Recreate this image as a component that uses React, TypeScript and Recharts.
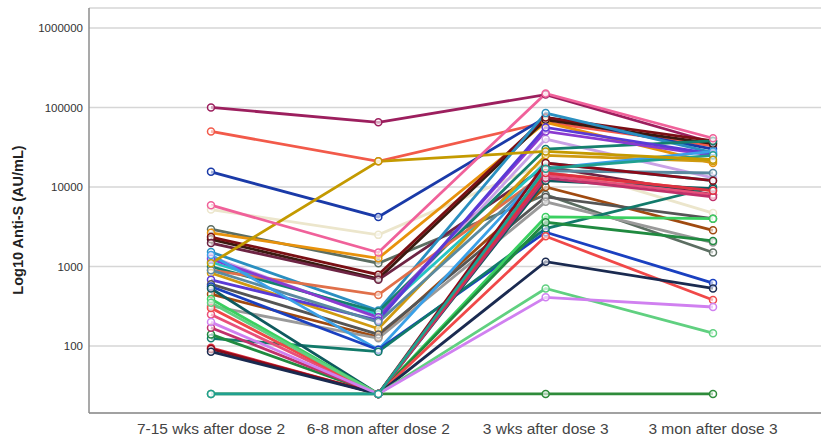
import React from "react";
import { LineChart, Line, XAxis, YAxis, CartesianGrid } from "recharts";

const timepoints = ["7-15 wks after dose 2", "6-8 mon after dose 2", "3 wks after dose 3", "3 mon after dose 3"];
const yTicks = [100, 1000, 10000, 100000, 1000000];

// Anti-S (AU/mL) per participant, one value per timepoint
const p27 = [25, 25, 25, 25];
const p01 = [100000, 65000, 145000, 36000];
const p03 = [50000, 21000, 65000, 33000];
const p04 = [15500, 4200, 75000, 30000];
const p06 = [5200, 2500, 20000, 4700];
const p07 = [2950, 1100, 8000, 1500];
const p08 = [2650, 1270, 65000, 20000];
const p37 = [2200, 700, 70000, 35000];
const p09 = [2350, 790, 75000, 38000];
const p10 = [1970, 680, 18000, 8000];
const p11 = [1520, 280, 85000, 27000];
const p12 = [1320, 225, 40000, 13000];
const p13 = [1140, 250, 20000, 12000];
const p14 = [1000, 270, 30000, 38000];
const p15 = [900, 440, 15000, 9000];
const p16 = [830, 165, 25000, 21000];
const p38 = [1250, 230, 50000, 25000];
const p17 = [680, 210, 56000, 26000];
const p39 = [900, 200, 16000, 15000];
const p34 = [450, 130, 10000, 2850];
const p35 = [600, 140, 7500, 4000];
const p20 = [320, 125, 6500, 2000];
const p28 = [1400, 90, 17000, 28000];
const p30 = [560, 90, 2700, 620];
const p23 = [125, 85, 3000, 10000];
const p18 = [530, 25, 12000, 9500];
const p19 = [390, 25, 4200, 4000];
const p33 = [140, 25, 3600, 2100];
const p21 = [250, 25, 14000, 8000];
const p29 = [300, 25, 2400, 380];
const p22 = [170, 25, 13000, 7500];
const p40 = [95, 25, 15000, 9000];
const p24 = [92, 25, 20000, 12000];
const p25 = [85, 25, 1150, 530];
const p31 = [350, 25, 530, 145];
const p32 = [200, 25, 410, 310];
const p26 = [25, 25, 17000, 25000];
const p05 = [1100, 21000, 28000, 22000];
const p02 = [5900, 1500, 150000, 41000];

const participants = [
  p27, p01, p03, p04, p06, p07, p08, p37, p09, p10, p11, p12, p13, p14, p15, p16, p38, p17, p39,
  p34, p35, p20, p28, p30, p23, p18, p19, p33, p21, p29, p22, p40, p24, p25, p31, p32, p26, p05, p02,
];
const colors = [
  "#2e8b3a", "#9c1f5e", "#f25a4a", "#1a3aa8", "#ece6cc", "#5c6e62", "#e8920c", "#3a1a10", "#7a0f14", "#6e2444",
  "#2a8fc0", "#c9a2e6", "#25c4c4", "#15806e", "#e0704a", "#d09a10", "#8a3ad0", "#5a3ad6", "#5a8aa0",
  "#a04a10", "#555555", "#9a9a9a", "#3aa0e8", "#1a40c0", "#127a6a", "#0e5a5e", "#3ad060", "#208a40", "#e8507a",
  "#f04848", "#c0306a", "#e03040", "#8b0a1a", "#1a2a50", "#60d080", "#d080f0", "#20a090", "#c49a00", "#f0619a",
];

const data = timepoints.map((t, i) => {
  const row: Record<string, number | string> = { time: t };
  participants.forEach((vals, k) => {
    row["p" + k] = vals[i];
  });
  return row;
});

const AxisTitle = () => (
  <text
    x={18}
    y={220}
    transform="rotate(-90 18 220)"
    textAnchor="middle"
    dominantBaseline="central"
    fontSize={14.5}
    fontWeight="bold"
    fill="#222"
    fontFamily="Liberation Sans, Arial, sans-serif"
  >
    Log10 Anti-S (AU/mL)
  </text>
);

export default function App() {
  return (
    <div style={{ position: "absolute", left: 0, top: 0, width: 828, height: 439, background: "#fff" }}>
      <LineChart
        width={828}
        height={439}
        data={data}
        margin={{ top: 8, right: 7, bottom: 0, left: 0 }}
        style={{ fontFamily: "Liberation Sans, Arial, sans-serif" }}
      >
        <CartesianGrid horizontal vertical={false} stroke="#d6d6d6" strokeWidth={1.5} />
        <XAxis
          dataKey="time"
          scale="point"
          padding={{ left: 122, right: 108 }}
          height={26}
          tickLine={false}
          tickSize={0}
          tickMargin={10}
          axisLine={{ stroke: "#8c8c8c", strokeWidth: 1.5 }}
          tick={{ fontSize: 15.5, fill: "#444" }}
          interval={0}
        />
        <YAxis
          scale="log"
          domain={[14.4, 1780000]}
          allowDataOverflow
          ticks={yTicks}
          width={89}
          tickLine={false}
          tickSize={4}
          tickMargin={2}
          axisLine={{ stroke: "#8c8c8c", strokeWidth: 1.5 }}
          tick={{ fontSize: 11.5, fill: "#333" }}
          label={<AxisTitle />}
        />
        {participants.map((_, k) => (
          <Line
            key={k}
            type="linear"
            dataKey={"p" + k}
            stroke={colors[k]}
            strokeWidth={2.8}
            dot={{ r: 3.5, stroke: colors[k], strokeWidth: 1.5, fill: "#fff", fillOpacity: 0.6 }}
            isAnimationActive={false}
          />
        ))}
      </LineChart>
    </div>
  );
}
